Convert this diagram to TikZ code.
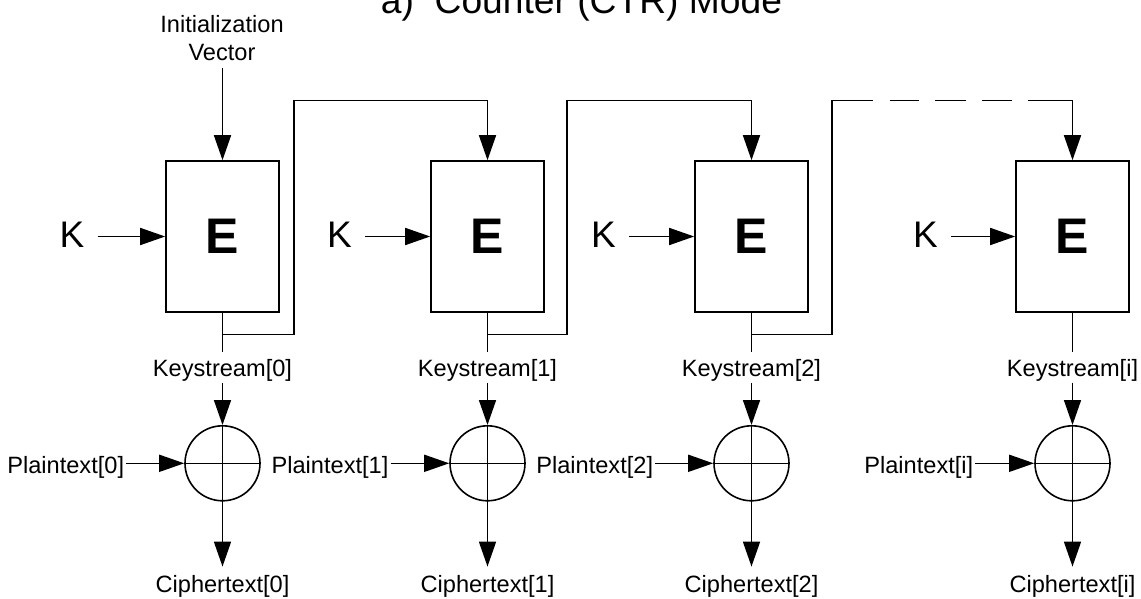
\documentclass[tikz,border=0pt]{standalone}
\usepackage{fontspec}
\setmainfont{Liberation Sans}
\usetikzlibrary{arrows.meta}
\begin{document}
\begin{tikzpicture}[x=1pt,y=-1pt,
  line/.style={line width=1.6pt},
  arr/.style={line, -{Triangle[length=25pt,width=17pt]}},
  ebox/.style={draw, line width=1.6pt, minimum width=113pt, minimum height=151pt, inner sep=0pt, font=\fontsize{50}{60}\selectfont\bfseries},
  klab/.style={inner sep=0pt, font=\fontsize{37}{44}\selectfont},
  lab/.style={inner xsep=0pt, font=\fontsize{23.6}{27.6}\selectfont, text height=17.2pt, text depth=0pt},
  kslab/.style={lab, inner ysep=6.5pt, anchor=base},
  ctlab/.style={lab, inner ysep=8pt, anchor=base},
  ptlab/.style={lab, inner xsep=2pt, inner ysep=0pt, anchor=base},
  xor/.style={draw, circle, line width=1.6pt, minimum size=75pt, inner sep=0pt},
]
\useasboundingbox (0,0) rectangle (1141,599);

% title
\node[font=\fontsize{37.2}{44}\selectfont, anchor=base, inner sep=0pt] (title) at (581.5,13.5) {a)\ \ Counter (CTR) Mode};

% initialization vector
\node[font=\fontsize{23.6}{27.6}\selectfont, align=center, inner sep=0pt, anchor=south] (iv) at (222,61) {Initialization\\Vector};

% encryption boxes
\node[ebox] (E1) at (222.5,236.5) {E};
\node[ebox] (E2) at (487.5,236.5) {E};
\node[ebox] (E3) at (751.5,236.5) {E};
\node[ebox] (E4) at (1072.5,236.5) {E};

% key labels
\node[klab] (K1) at (72,235) {K};
\node[klab] (K2) at (339.5,235) {K};
\node[klab] (K3) at (603.5,235) {K};
\node[klab] (K4) at (925.5,235) {K};

% keystream labels
\node[kslab] (ks1) at (222.5,376) {Keystream[0]};
\node[kslab] (ks2) at (487.5,376) {Keystream[1]};
\node[kslab] (ks3) at (751.5,376) {Keystream[2]};
\node[kslab] (ks4) at (1072.5,376) {Keystream[i]};

% xor circles
\node[xor] (x1) at (222.5,463.3) {};
\node[xor] (x2) at (487.5,463.3) {};
\node[xor] (x3) at (751.5,463.3) {};
\node[xor] (x4) at (1072.5,463.3) {};

% plaintext labels
\node[ptlab] (p1) at (65.7,473.3) {Plaintext[0]};
\node[ptlab] (p2) at (330,473.3) {Plaintext[1]};
\node[ptlab] (p3) at (594.7,473.3) {Plaintext[2]};
\node[ptlab] (p4) at (918.8,473.3) {Plaintext[i]};

% ciphertext labels
\node[ctlab] (c1) at (222.5,592) {Ciphertext[0]};
\node[ctlab] (c2) at (487.5,592) {Ciphertext[1]};
\node[ctlab] (c3) at (751.5,592) {Ciphertext[2]};
\node[ctlab] (c4) at (1072.5,592) {Ciphertext[i]};

% junctions and corners of the counter chain
\coordinate (j1) at (222.5,334.3);
\coordinate (j2) at (487.5,334.3);
\coordinate (j3) at (751.5,334.3);
\coordinate (r1) at (294,100.7);
\coordinate (r2) at (567,100.7);
\coordinate (r3) at (832,100.7);
\coordinate (d1) at (873,100.7);
\coordinate (d2) at (1028,100.7);

% IV arrow
\draw[arr, shorten <=7pt] (E1.north |- iv.south) -- (E1.north);

\foreach \i in {1,2,3,4}{
  % key arrows
  \draw[arr, shorten <=13pt] (K\i.east |- E\i.west) -- (E\i.west);
  % E output to keystream label
  \draw[line] (E\i.south) -- (ks\i.north);
  % keystream to xor
  \draw[arr] (ks\i.south) -- (x\i.north);
  % xor cross
  \draw[line] (x\i.north) -- (x\i.south) (x\i.west) -- (x\i.east);
  % plaintext to xor
  \draw[arr] (x\i.west -| p\i.east) -- (x\i.west);
  % xor to ciphertext
  \draw[arr] (x\i.south) -- (c\i.north);
}

% counter chain
\draw[arr] (j1) -| (r1) -| (E2.north);
\draw[arr] (j2) -| (r2) -| (E3.north);
\draw[line] (j3) -| (r3) -- (d1);
\draw[line, dash pattern=on 0pt off 17pt on 29pt off 16pt on 31pt off 16pt on 30pt off 16pt] (d1) -- (d2);
\draw[arr] (d2) -| (E4.north);
\end{tikzpicture}
\end{document}
